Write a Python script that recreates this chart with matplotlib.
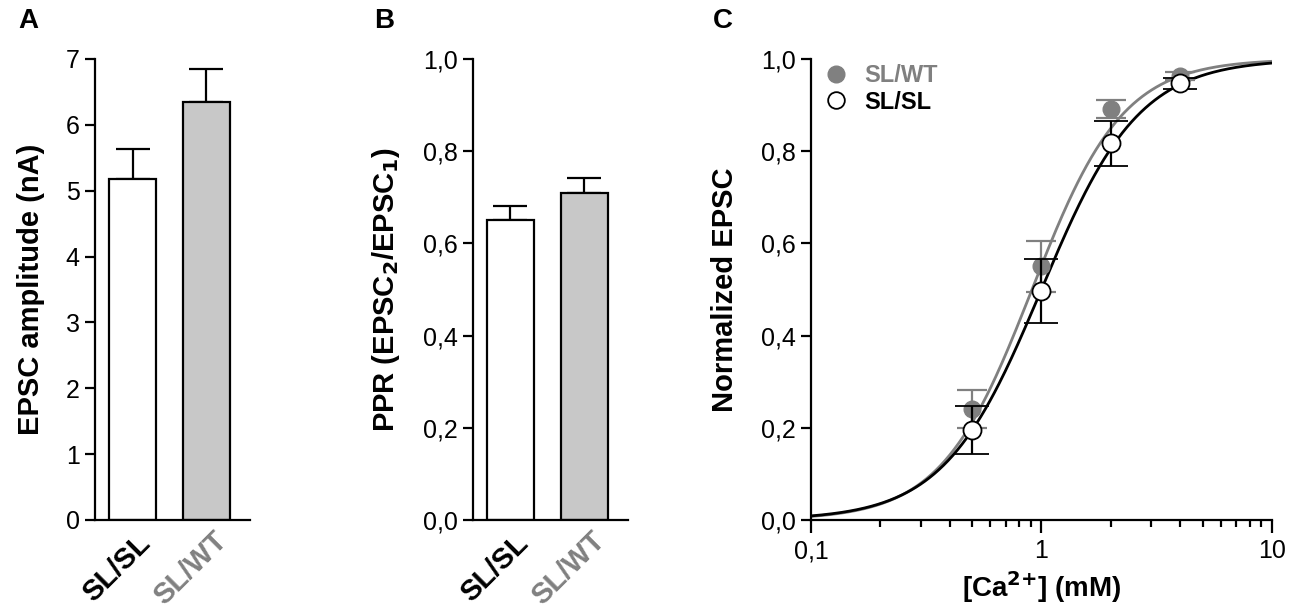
import numpy as np
import matplotlib
matplotlib.use("Agg")
import matplotlib.pyplot as plt
from matplotlib.lines import Line2D
from matplotlib.transforms import ScaledTranslation

plt.rcParams['font.family'] = ['Liberation Sans', 'DejaVu Sans']

# panel A: EPSC amplitude
genotypes = ["SL/SL", "SL/WT"]
amp_mean = [5.17, 6.34]
amp_sem = [0.46, 0.51]

# panel B: paired-pulse ratio
ppr_mean = [0.65, 0.709]
ppr_sem = [0.03, 0.032]

# panel C: normalized EPSC vs [Ca2+]
ca_conc = [0.5, 1.0, 2.0, 4.0]
wt_norm = [0.241, 0.55, 0.892, 0.963]
wt_sem = [0.041, 0.056, 0.02, 0.008]
sl_norm = [0.196, 0.497, 0.817, 0.947]
sl_sem = [0.052, 0.07, 0.049, 0.012]
# Hill fit parameters (EC50 in mM, Hill coefficient)
wt_ec50, wt_n = 0.91, 2.2
sl_ec50, sl_n = 1.0, 2.05

gray = "#808080"
bar_gray = "#c8c8c8"
lw = 1.6
tick_fs = 18
label_fs = 21

fig = plt.figure(figsize=(13, 6.15), dpi=100)
axA = fig.add_axes([0.0731, 0.1545, 0.1192, 0.7496])
axB = fig.add_axes([0.3638, 0.1545, 0.1192, 0.7496])
axC = fig.add_axes([0.6238, 0.1545, 0.3546, 0.7496])


def style_axes(ax):
    for s in ["top", "right"]:
        ax.spines[s].set_visible(False)
    for s in ["left", "bottom"]:
        ax.spines[s].set_linewidth(lw)
    ax.tick_params(width=lw, length=7, labelsize=tick_fs, direction="out", pad=4)


def bar_panel(ax, means, sems, yticks, ylabels, ylabel):
    x = np.arange(len(means))
    ax.bar(x, means, width=0.64, color=["white", bar_gray], edgecolor="black",
           linewidth=lw, zorder=2)
    ax.errorbar(x, means, yerr=[np.zeros(len(sems)), sems], fmt="none",
                ecolor="black", elinewidth=lw, capsize=12, capthick=lw, zorder=1)
    ax.set_xlim(-0.507, 1.588)
    ax.set_ylim(yticks[0], yticks[-1])
    ax.set_yticks(yticks)
    ax.set_yticklabels(ylabels)
    ax.set_xticks(x)
    style_axes(ax)
    ax.tick_params(axis="x", length=0, pad=0)
    ax.set_xticklabels(genotypes, rotation=45, ha="center", va="center",
                       rotation_mode="anchor", fontsize=21, fontweight="bold")
    shift = ScaledTranslation(-16 / 100, -48 / 100, fig.dpi_scale_trans)
    for t in ax.get_xticklabels():
        t.set_transform(t.get_transform() + shift)
    ax.get_xticklabels()[1].set_color(gray)
    ax.set_ylabel(ylabel, fontsize=label_fs, fontweight="bold", labelpad=15)


bar_panel(axA, amp_mean, amp_sem, list(range(8)), [str(v) for v in range(8)],
          "EPSC amplitude (nA)")
b_ticks = [0.0, 0.2, 0.4, 0.6, 0.8, 1.0]
b_labels = ["0,0", "0,2", "0,4", "0,6", "0,8", "1,0"]
bar_panel(axB, ppr_mean, ppr_sem, b_ticks, b_labels,
          "PPR (EPSC$_\\mathbf{2}$/EPSC$_\\mathbf{1}$)")

# panel C
xs = np.logspace(-1, 1, 300)
axC.plot(xs, 1 / (1 + (wt_ec50 / xs) ** wt_n), color=gray, lw=2, zorder=1)
axC.plot(xs, 1 / (1 + (sl_ec50 / xs) ** sl_n), color="black", lw=2, zorder=2)
axC.errorbar(ca_conc, wt_norm, yerr=wt_sem, fmt="o", ms=12, mfc=gray, mec=gray,
             ecolor=gray, elinewidth=lw, capsize=11, capthick=lw, zorder=3)
axC.errorbar(ca_conc, sl_norm, yerr=sl_sem, fmt="o", ms=13, mfc="white", mec="black",
             mew=1.3, ecolor="black", elinewidth=lw, capsize=12, capthick=lw, zorder=4)
axC.set_xscale("log")
axC.set_xlim(0.1, 10)
axC.set_ylim(0, 1.0)
axC.set_xticks([0.1, 1, 10])
axC.set_xticklabels(["0,1", "1", "10"])
axC.set_yticks(b_ticks)
axC.set_yticklabels(b_labels)
style_axes(axC)
axC.tick_params(axis="x", which="major", length=9, pad=5)
axC.tick_params(axis="x", which="minor", length=5, width=lw)
axC.set_xlabel("[Ca$^{\\mathbf{2{+}}}$] (mM)", fontsize=20, fontweight="bold", labelpad=4)
axC.set_ylabel("Normalized EPSC", fontsize=label_fs, fontweight="bold", labelpad=16)

handles = [Line2D([], [], ls="none", marker="o", ms=12, mfc=gray, mec=gray),
           Line2D([], [], ls="none", marker="o", ms=12, mfc="white", mec="black", mew=1.3)]
leg = axC.legend(handles, ["SL/WT", "SL/SL"], loc="upper left", bbox_to_anchor=(-0.022, 1.035),
                 frameon=False, handletextpad=0.6, labelspacing=0.15,
                 prop={"size": 17, "weight": "bold"}, handlelength=1.2)
leg.get_texts()[0].set_color(gray)

for label, xpos in [("A", 0.014), ("B", 0.288), ("C", 0.548)]:
    fig.text(xpos, 0.966, label, fontsize=20, fontweight="bold", va="center")

fig.savefig("out.png", dpi=100)
